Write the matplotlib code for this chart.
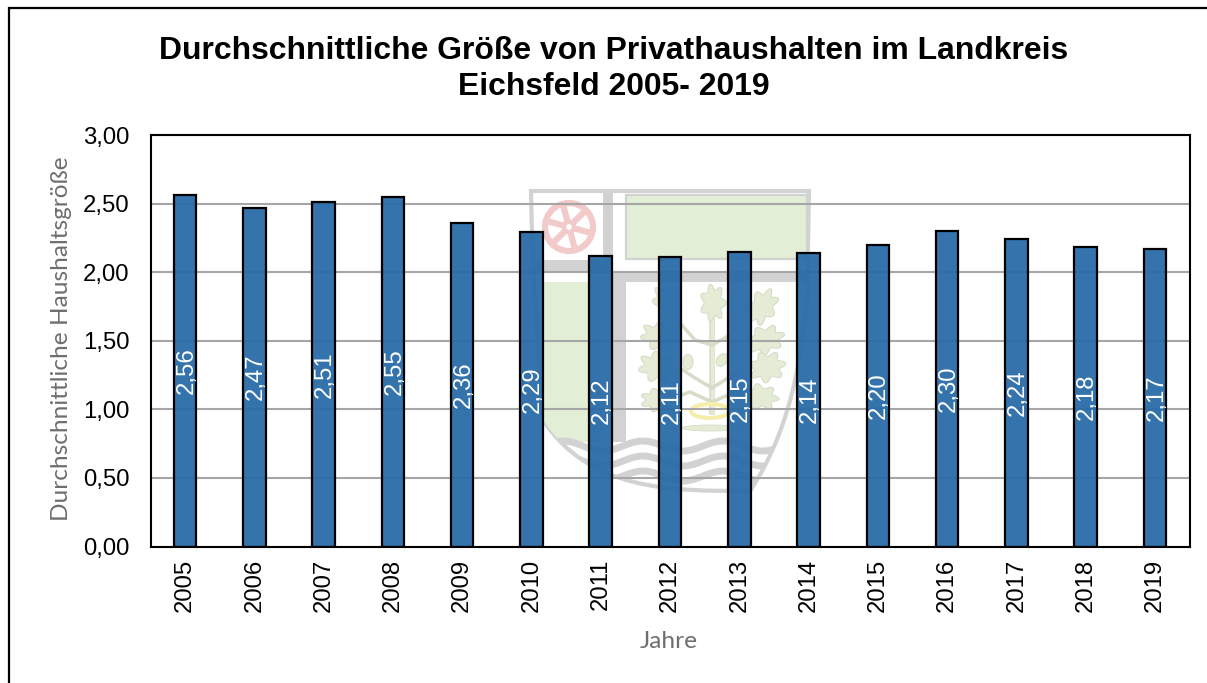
import numpy as np
import matplotlib
matplotlib.use("Agg")
import matplotlib.pyplot as plt
from matplotlib.patches import Polygon, Circle, Rectangle, Ellipse, PathPatch
from matplotlib.path import Path

years = [2005, 2006, 2007, 2008, 2009, 2010, 2011, 2012, 2013, 2014, 2015, 2016, 2017, 2018, 2019]
values = [2.56, 2.47, 2.51, 2.55, 2.36, 2.29, 2.12, 2.11, 2.15, 2.14, 2.20, 2.30, 2.24, 2.18, 2.17]
y_ticks = [0.0, 0.5, 1.0, 1.5, 2.0, 2.5, 3.0]
title = "Durchschnittliche Größe von Privathaushalten im Landkreis\nEichsfeld 2005- 2019"
y_label = "Durchschnittliche Haushaltsgröße"
x_label = "Jahre"

W, H = 1207, 683
plt.rcParams['font.family'] = ['Liberation Sans', 'DejaVu Sans']
fig = plt.figure(figsize=(W / 100, H / 100), dpi=100, facecolor='white')

# page-level layer in pixel coordinates: frame and faint coat of arms
bg = fig.add_axes([0, 0, 1, 1], zorder=0)
bg.set_xlim(0, W); bg.set_ylim(H, 0); bg.axis('off')
bg.plot([9, 9, W], [H, 8, 8], color='black', lw=1.6, solid_capstyle='butt', solid_joinstyle='miter')

GR = '#d2d2d2'; GN = '#e2efd6'; TR = '#e4ecd6'; TRE = '#d6dcc8'; RD = '#f2caca'
C4, L2 = Path.CURVE4, Path.LINETO
shield_path = Path([(531, 191), (809, 191), (807, 300), (802, 340), (797, 420), (750, 491), (670, 491),
                    (590, 491), (543, 420), (538, 340), (533, 300), (531, 191), (531, 191)],
                   [Path.MOVETO, L2, L2, C4, C4, C4, C4, C4, C4, C4, L2, L2, Path.CLOSEPOLY])
sh = PathPatch(shield_path, fc='white', ec=GR, lw=3, zorder=1)
bg.add_patch(sh)


def clipped(artist):
    artist.set_clip_path(shield_path, bg.transData)
    return artist


clipped(bg.add_patch(Rectangle((626, 195), 181, 64, fc=GN, ec=GR, lw=1.6, zorder=2)))
clipped(bg.add_patch(Rectangle((543, 282), 60, 160, fc=GN, ec='none', zorder=2)))
bg.add_patch(Rectangle((603, 192), 10, 80, fc=GR, ec='none', zorder=3))
bg.add_patch(Rectangle((533, 260), 70, 12, fc=GR, ec='none', zorder=3))
bg.add_patch(Rectangle((613, 272), 193, 10, fc=GR, ec='none', zorder=3))
bg.add_patch(Rectangle((613, 282), 13, 160, fc=GR, ec='none', zorder=3))
# wheel
bg.add_patch(Circle((569, 227), 24, fc='white', ec=RD, lw=4.5, zorder=4))
for a in np.arange(0, 360, 60) + 15:
    r = np.deg2rad(a)
    bg.plot([569, 569 + 23 * np.cos(r)], [227, 227 + 23 * np.sin(r)], color=RD, lw=4.5, zorder=4)
bg.add_patch(Circle((569, 227), 5, fc='white', ec=RD, lw=3, zorder=5))
# waves
xw = np.linspace(540, 800, 300)
for y0 in [446, 461, 476]:
    yw = y0 - 5 * np.cos((xw - 643) / 80 * 2 * np.pi)
    clipped(bg.plot(xw, yw, color=GR, lw=5, zorder=4)[0])
# tree
bg.plot([712, 712], [292, 412], color=TRE, lw=4, zorder=4)
bg.plot([712, 712], [292, 412], color=TR, lw=2.5, zorder=4)
for pts in [[(712, 345), (695, 340), (680, 323)], [(712, 345), (725, 338), (735, 330)],
            [(712, 388), (695, 378), (683, 370)], [(712, 388), (728, 378), (742, 372)],
            [(712, 402), (690, 392), (668, 400)], [(712, 402), (735, 392), (752, 398)]]:
    a = np.array(pts)
    bg.plot(a[:, 0], a[:, 1], color=TRE, lw=2.5, zorder=4)
theta = np.linspace(0, 2 * np.pi, 160)


def leaf(cx, cy, w, h, rot):
    r = 1 + 0.2 * np.cos(7 * theta)
    px, py = 0.5 * w * r * np.cos(theta), 0.5 * h * r * np.sin(theta)
    c, s = np.cos(rot), np.sin(rot)
    bg.add_patch(Polygon(np.c_[cx + c * px - s * py, cy + s * px + c * py], closed=True, fc=TR, ec=TRE, lw=0.8, zorder=4))


for cx, cy, w, h, rot in [(713, 303, 22, 32, 0), (762, 307, 24, 34, 0.6), (765, 340, 34, 24, -0.3),
                          (767, 367, 32, 26, -0.2), (760, 397, 32, 22, 0.1), (667, 303, 22, 32, -0.5),
                          (660, 337, 34, 24, 0.3), (657, 367, 32, 26, 0.2), (657, 400, 28, 20, 0)]:
    leaf(cx, cy, w, h, rot)
bg.add_patch(Ellipse((688, 362), 10, 15, fc=TR, ec=TRE, lw=0.8, zorder=4))
bg.add_patch(Ellipse((722, 360), 10, 14, angle=40, fc=TR, ec=TRE, lw=0.8, zorder=4))
bg.add_patch(Ellipse((710, 411), 38, 14, fc='none', ec='#f6efac', lw=3, zorder=5))
bg.add_patch(Ellipse((711, 428), 58, 6, fc=TR, ec=TRE, lw=0.6, zorder=4))

# chart
L, R, T, B = 150.5, 1189.5, 135, 546.5
ax = fig.add_axes([L / W, 1 - B / H, (R - L) / W, (B - T) / H], zorder=2)
ax.patch.set_alpha(0)
x = np.arange(len(years))
ax.set_xlim(-0.5, len(years) - 0.5)
ax.set_ylim(0, 3)
ax.yaxis.grid(True, color='#a6a6a6', lw=1.5, zorder=1)
ax.set_axisbelow(True)
bars = ax.bar(x, values, width=0.325, facecolor=(0.16, 0.42, 0.66, 0.95), edgecolor='black', linewidth=1.6, zorder=2)
for xi, v in zip(x, values):
    ax.text(xi + 0.02, v / 2, f"{v:.2f}".replace('.', ','), rotation=90, ha='center', va='center',
            color='white', fontsize=17.2, zorder=3)
ax.set_xticks(x)
ax.set_xticklabels([str(y) for y in years], rotation=90, fontsize=17.2)
ax.set_yticks(y_ticks)
ax.set_yticklabels([f"{v:.2f}".replace('.', ',') for v in y_ticks], fontsize=17.2)
ax.tick_params(axis='both', length=0, colors='black')
ax.tick_params(axis='x', pad=9)
ax.tick_params(axis='y', pad=15)
for s in ax.spines.values():
    s.set_color('black'); s.set_linewidth(1.5)

fig.text(614 / W, 1 - 69 / H, title, ha='center', va='center', fontsize=22.95, fontweight='bold', color='black', linespacing=1.3)
fig.text(62 / W, 1 - 339 / H, y_label, rotation=90, ha='center', va='center', fontsize=17.6, color='#6e6e6e', family=['Lato', 'DejaVu Sans'])
fig.text(669 / W, 1 - 641 / H, x_label, ha='center', va='center', fontsize=17.6, color='#6e6e6e', family=['Lato', 'DejaVu Sans'])

fig.savefig('out.png', dpi=100, facecolor='white')
